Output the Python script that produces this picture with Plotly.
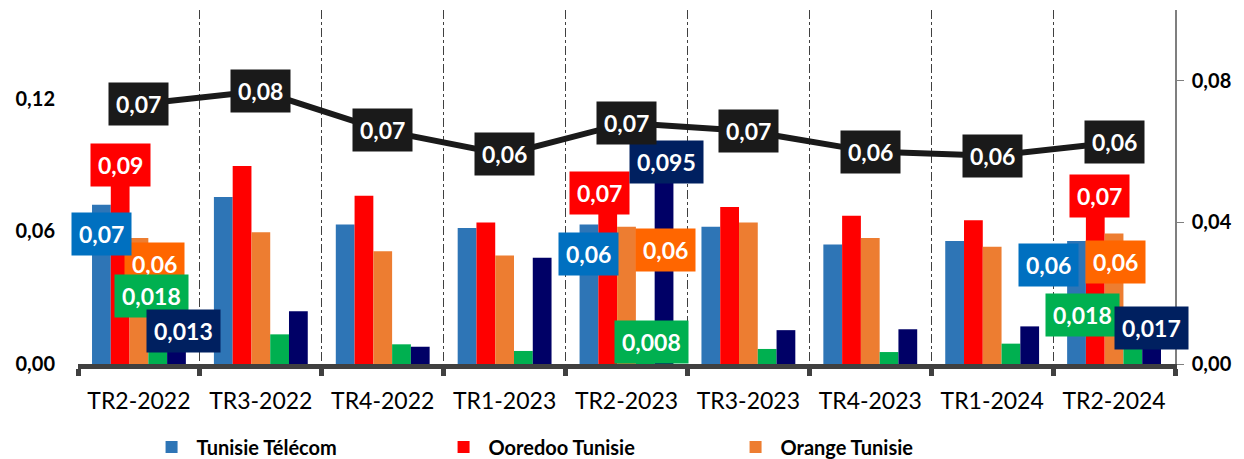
import plotly.graph_objects as go

categories = ["TR2-2022", "TR3-2022", "TR4-2022", "TR1-2023", "TR2-2023",
              "TR3-2023", "TR4-2023", "TR1-2024", "TR2-2024"]

tunisie_telecom = [0.072, 0.0755, 0.063, 0.0615, 0.063, 0.062, 0.054, 0.0556, 0.0556]
ooredoo = [0.088, 0.0895, 0.076, 0.064, 0.070, 0.071, 0.067, 0.065, 0.070]
orange = [0.057, 0.0595, 0.051, 0.049, 0.062, 0.064, 0.057, 0.053, 0.059]
lycamobile = [0.018, 0.0134, 0.0089, 0.0059, 0.008, 0.0068, 0.0054, 0.0092, 0.018]
autres = [0.013, 0.0238, 0.0078, 0.048, 0.095, 0.0153, 0.0157, 0.017, 0.017]
marche = [0.0734, 0.0771, 0.066, 0.0592, 0.0681, 0.0658, 0.0600, 0.0588, 0.0626]

labelled_idx = [0, 4, 8]

FONT = "Lato"

series = [
    # name, values, bar colour, label colour, decimals, legend, label shifts per labelled category
    ("Tunisie Télécom", tunisie_telecom, "#2E75B6", "#0070C0", 2, True,
     [(0, -29), (0, -29), (-28, -24)]),
    ("Ooredoo Tunisie", ooredoo, "#FF0000", "#FF0000", 2, True,
     [(0, 4), (-8, 16), (4, 13)]),
    ("Orange Tunisie", orange, "#ED7D31", "#FF6600", 2, True,
     [(16, -26), (39, -23), (1, -29)]),
    ("Lycamobile", lycamobile, "#00B050", "#00B050", 3, False,
     [(-6, 28), (6, 4), (-50, 9)]),
    ("Autres", autres, "#000066", "#002060", 3, False,
     [(7, 4), (2, -8), (0, -2)]),
]

fig = go.Figure()

for name, vals, bcol, lcol, dec, leg, shifts in series:
    fig.add_trace(go.Bar(
        x=categories, y=vals, name=name, marker_color=bcol,
        marker_line_width=0, showlegend=leg, yaxis="y",
    ))

fig.add_trace(go.Scatter(
    x=categories, y=marche, name="Marché", mode="lines",
    line=dict(color="#1A1A1A", width=6), yaxis="y2", showlegend=False,
))

n_series = len(series)
bar_step = 18.8
annotations = []
order = [1, 2, 0, 3, 4]
for si in order:
    name, vals, bcol, lcol, dec, leg, shifts = series[si]
    offset = (si - (n_series - 1) / 2) * bar_step
    for j, ci in enumerate(labelled_idx):
        v = vals[ci]
        dx, dy = shifts[j]
        annotations.append(dict(
            x=categories[ci], y=v, xref="x", yref="y",
            text=f"<b>{v:.{dec}f}</b>".replace(".", ","),
            showarrow=False, xshift=offset + dx, yshift=dy,
            bgcolor=lcol, borderpad=7,
            font=dict(family=FONT, size=23, color="white"),
        ))

for ci, v in enumerate(marche):
    annotations.append(dict(
        x=categories[ci], y=v, xref="x", yref="y2",
        text=f"<b>{v:.2f}</b>".replace(".", ","),
        showarrow=False, bgcolor="#1A1A1A", borderpad=7,
        font=dict(family=FONT, size=23, color="white"),
    ))

fig.update_layout(
    width=1244, height=459,
    margin=dict(l=78, r=69, t=10, b=95, autoexpand=False),
    paper_bgcolor="white", plot_bgcolor="white",
    separators=", ",
    barmode="group", bargap=0.23, bargroupgap=0,
    font=dict(family=FONT, color="black"),
    annotations=annotations,
    xaxis=dict(
        type="category", tickson="boundaries", automargin=False,
        range=[-0.5, len(categories) - 0.5],
        showgrid=True, gridcolor="#404040", griddash="dashdot", gridwidth=1,
        showline=True, linecolor="#404040", linewidth=5,
        ticks="outside", ticklen=7, tickwidth=5, tickcolor="#404040",
        tickfont=dict(family=FONT, size=23, color="black"),
        ticklabelstandoff=12,
    ),
    yaxis=dict(
        range=[0, 0.16], tickvals=[0, 0.06, 0.12], tickformat=".2f",
        automargin=False,
        showgrid=False, zeroline=False, showline=False,
        tickfont=dict(family=FONT, size=20, color="black", weight="bold"),
        ticklabelstandoff=22,
    ),
    yaxis2=dict(
        range=[0, 0.10], tickvals=[0, 0.04, 0.08], tickformat=".2f",
        overlaying="y", side="right", automargin=False,
        showgrid=False, zeroline=False,
        showline=True, linecolor="#7F7F7F", linewidth=1.5,
        ticks="outside", ticklen=7, tickcolor="#7F7F7F",
        tickfont=dict(family=FONT, size=20, color="black", weight="bold"),
        ticklabelstandoff=4,
    ),
    legend=dict(
        orientation="h", x=0.0625, xanchor="left", y=-0.2345, yanchor="middle",
        entrywidth=237, entrywidthmode="pixels",
        font=dict(family=FONT, size=20, color="black", weight="bold"),
        traceorder="normal", itemwidth=40,
    ),
)

fig.write_html(
    "out.html",
    config={"displayModeBar": False},
    post_script="document.body.style.margin='0';document.body.style.overflow='hidden';",
)
